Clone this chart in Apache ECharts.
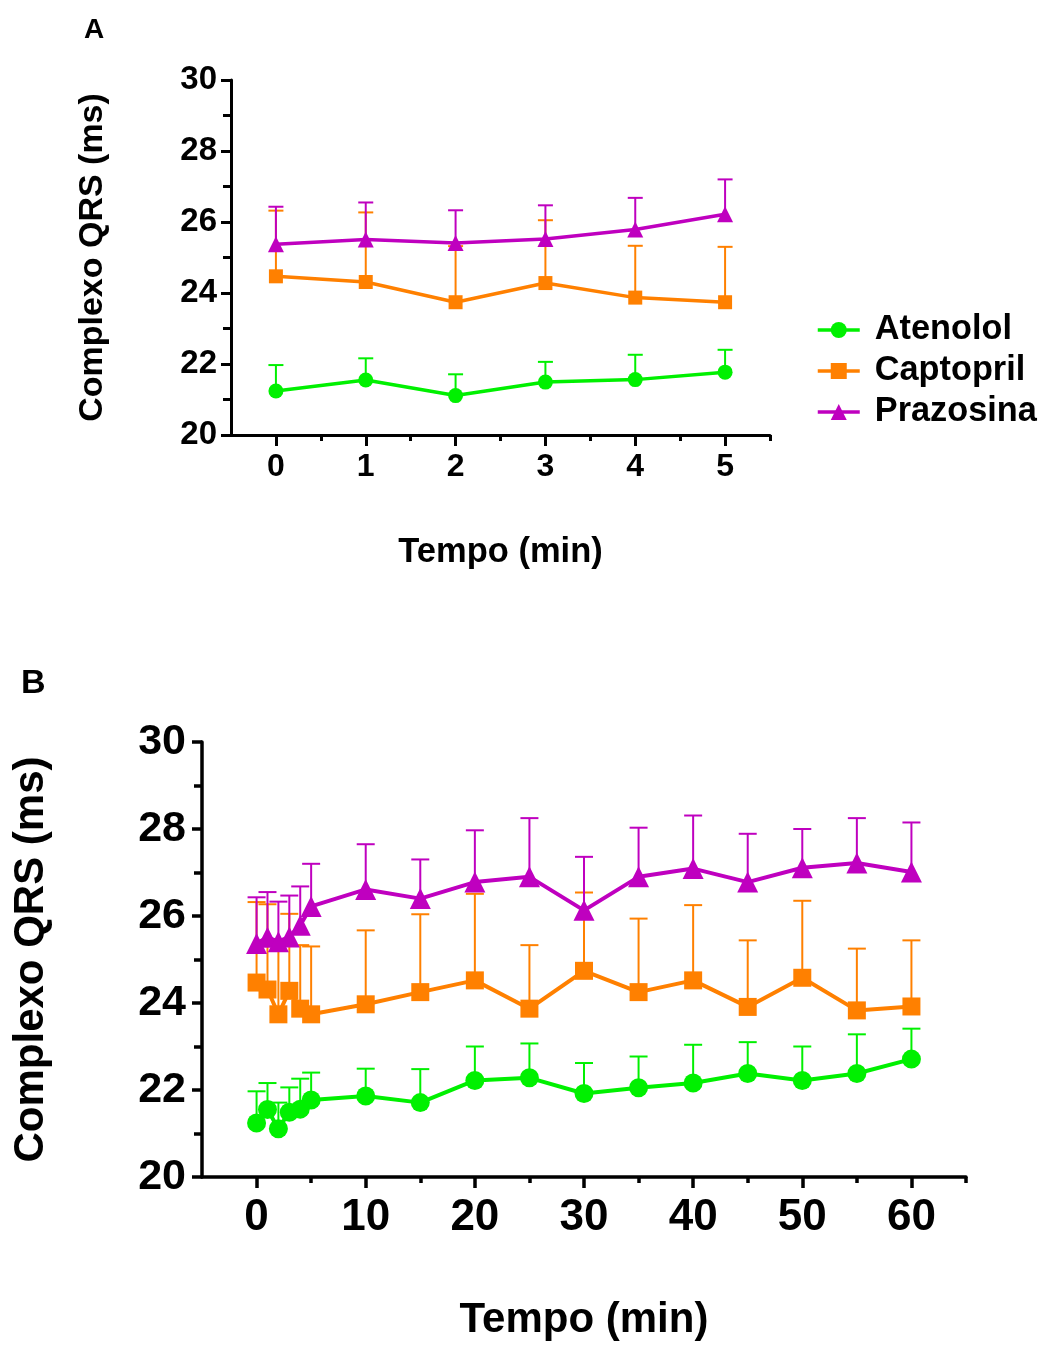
<!DOCTYPE html>
<html>
<head>
<meta charset="utf-8">
<script src="https://cdn.jsdelivr.net/npm/echarts@6/dist/echarts.min.js"></script>
<style>
  html, body { margin: 0; padding: 0; background: #fff; }
  #chart { width: 1041px; height: 1345px; }
</style>
</head>
<body>
<div id="chart"></div>
<script>
// QRS complex duration (mean + SEM) over time for three drugs
const tempo = [0, 1, 2, 3, 4, 5, 10, 15, 20, 25, 30, 35, 40, 45, 50, 55, 60];

const atenololMean = [21.24, 21.55, 21.11, 21.49, 21.56, 21.77, 21.86, 21.71, 22.22, 22.28, 21.92, 22.05, 22.16, 22.38, 22.22, 22.38, 22.71];
const atenololSem  = [0.73, 0.61, 0.60, 0.57, 0.70, 0.63, 0.63, 0.77, 0.78, 0.79, 0.70, 0.72, 0.88, 0.72, 0.78, 0.90, 0.70];

const captoprilMean = [24.47, 24.31, 23.74, 24.28, 23.87, 23.74, 23.97, 24.25, 24.52, 23.87, 24.74, 24.25, 24.52, 23.91, 24.58, 23.83, 23.92];
const captoprilSem  = [1.85, 1.96, 1.58, 1.77, 1.46, 1.56, 1.70, 1.79, 1.99, 1.46, 1.80, 1.69, 1.73, 1.53, 1.77, 1.42, 1.52];

const prazosinaMean = [25.37, 25.51, 25.41, 25.52, 25.79, 26.22, 26.61, 26.40, 26.78, 26.90, 26.13, 26.90, 27.09, 26.78, 27.11, 27.22, 27.01];
const prazosinaSem  = [1.06, 1.04, 0.92, 0.95, 0.89, 0.98, 1.04, 0.90, 1.19, 1.35, 1.23, 1.13, 1.22, 1.11, 0.89, 1.03, 1.14];

const yTicks = [20, 22, 24, 26, 28, 30];
const xTicksA = [0, 1, 2, 3, 4, 5];
const xMinorA = [0.5, 1.5, 2.5, 3.5, 4.5, 5.5];
const xTicksB = [0, 10, 20, 30, 40, 50, 60];
const xMinorB = [5, 15, 25, 35, 45, 55, 65];

const groups = [
  { name: 'Atenolol',  mean: atenololMean,  sem: atenololSem,  color: '#00f000', symbol: 'circle' },
  { name: 'Captopril', mean: captoprilMean, sem: captoprilSem, color: '#ff8000', symbol: 'rect' },
  { name: 'Prazosina', mean: prazosinaMean, sem: prazosinaSem, color: '#bf00bf', symbol: 'triangle' }
];

const FONT = '"Liberation Sans", Arial, sans-serif';
const BLACK = '#000';

function points(g, maxT) {
  const out = [];
  tempo.forEach((t, i) => { if (t <= maxT) out.push([t, g.mean[i], g.sem[i]]); });
  return out;
}

function yAxisFor(gridIndex, fontSize, labelSize, labelMargin, nameGap, lw) {
  return {
    type: 'value', gridIndex, min: yTicks[0], max: yTicks[yTicks.length - 1], interval: 2,
    name: 'Complexo QRS (ms)', nameLocation: 'middle', nameGap,
    nameTextStyle: { fontFamily: FONT, fontWeight: 'bold', fontSize, color: BLACK },
    axisLine: { show: true, onZero: false, lineStyle: { color: BLACK, width: lw } },
    axisTick: { show: true, length: 10, lineStyle: { color: BLACK, width: lw } },
    minorTick: { show: true, splitNumber: 2, length: 8, lineStyle: { color: BLACK, width: lw } },
    axisLabel: { fontFamily: FONT, fontWeight: 'bold', fontSize: labelSize, color: BLACK, margin: labelMargin },
    splitLine: { show: false }, minorSplitLine: { show: false }
  };
}

function xAxesFor(gridIndex, min, max, major, minor, fontSize, labelMargin, nameGap, lw, nameSize) {
  return [
    {
      type: 'value', gridIndex, min, max, position: 'bottom',
      name: 'Tempo (min)', nameLocation: 'middle', nameGap,
      nameTextStyle: { fontFamily: FONT, fontWeight: 'bold', fontSize: nameSize, color: BLACK },
      axisLine: { show: true, onZero: false, lineStyle: { color: BLACK, width: lw } },
      axisTick: { show: true, customValues: major, length: 11, lineStyle: { color: BLACK, width: lw } },
      axisLabel: { customValues: major, fontFamily: FONT, fontWeight: 'bold', fontSize, color: BLACK, margin: labelMargin },
      splitLine: { show: false }
    },
    {
      type: 'value', gridIndex, min, max, position: 'bottom',
      axisLine: { show: false, onZero: false },
      axisTick: { show: true, customValues: minor, length: 6, lineStyle: { color: BLACK, width: lw } },
      axisLabel: { show: false },
      splitLine: { show: false }
    }
  ];
}

function errorBarSeries(g, xAxisIndex, yAxisIndex, data, capHalf) {
  return {
    type: 'custom', name: g.name, xAxisIndex, yAxisIndex, z: 1,
    itemStyle: { color: g.color },
    data,
    renderItem: function (params, api) {
      const x = api.value(0), m = api.value(1), s = api.value(2);
      const base = api.coord([x, m]);
      const top = api.coord([x, m + s]);
      const style = { stroke: g.color, lineWidth: 2 };
      return {
        type: 'group',
        children: [
          { type: 'line', shape: { x1: base[0], y1: base[1], x2: top[0], y2: top[1] }, style },
          { type: 'line', shape: { x1: top[0] - capHalf, y1: top[1], x2: top[0] + capHalf, y2: top[1] }, style }
        ]
      };
    }
  };
}

function lineSeries(g, xAxisIndex, yAxisIndex, data, lineWidth, sizes) {
  return {
    type: 'line', name: g.name, xAxisIndex, yAxisIndex, z: 3,
    data: data.map(d => [d[0], d[1]]),
    symbol: g.symbol,
    symbolSize: sizes[g.symbol],
    showSymbol: true,
    itemStyle: { color: g.color },
    lineStyle: { color: g.color, width: lineWidth }
  };
}

const sizesA = { circle: 15, rect: 14, triangle: 16 };
const sizesB = { circle: 19, rect: 18, triangle: 21 };

// line series first so the legend takes its icons from them
const series = [];
groups.forEach(g => {
  series.push(lineSeries(g, 0, 0, points(g, 5), 3.5, sizesA));
  series.push(lineSeries(g, 2, 1, points(g, 60), 4, sizesB));
});
groups.forEach(g => {
  series.push(errorBarSeries(g, 0, 0, points(g, 5), 7.5));
  series.push(errorBarSeries(g, 2, 1, points(g, 60), 9));
});

const option = {
  animation: false,
  backgroundColor: '#fff',
  grid: [
    { left: 231, top: 80, width: 539, height: 355 },
    { left: 202, top: 742, width: 764, height: 435 }
  ],
  xAxis: [
    ...xAxesFor(0, -0.5, 5.5, xTicksA, xMinorA, 32, 16, 100, 3, 34.5),
    ...xAxesFor(1, -5, 65, xTicksB, xMinorB, 44, 19, 122, 3.5, 42)
  ],
  yAxis: [
    yAxisFor(0, 34, 33, 14, 121, 3),
    yAxisFor(1, 42, 43, 16, 150, 3.5)
  ],
  legend: {
    orient: 'vertical', left: 811, top: 308,
    itemWidth: 42, itemHeight: 20, itemGap: 7,
    lineStyle: { width: 3.5 },
    data: groups.map(g => g.name),
    textStyle: { fontFamily: FONT, fontWeight: 'bold', fontSize: 34.3, color: BLACK, padding: [0, 0, 0, 10] }
  },
  graphic: [
    { type: 'text', left: 84, top: 16, style: { text: 'A', fontFamily: FONT, fontWeight: 'bold', fontSize: 28, fill: BLACK } },
    { type: 'text', left: 21, top: 667, style: { text: 'B', fontFamily: FONT, fontWeight: 'bold', fontSize: 34, fill: BLACK } }
  ],
  series
};

const chart = echarts.init(document.getElementById('chart'), null, { renderer: 'canvas' });
chart.setOption(option);
</script>
</body>
</html>
